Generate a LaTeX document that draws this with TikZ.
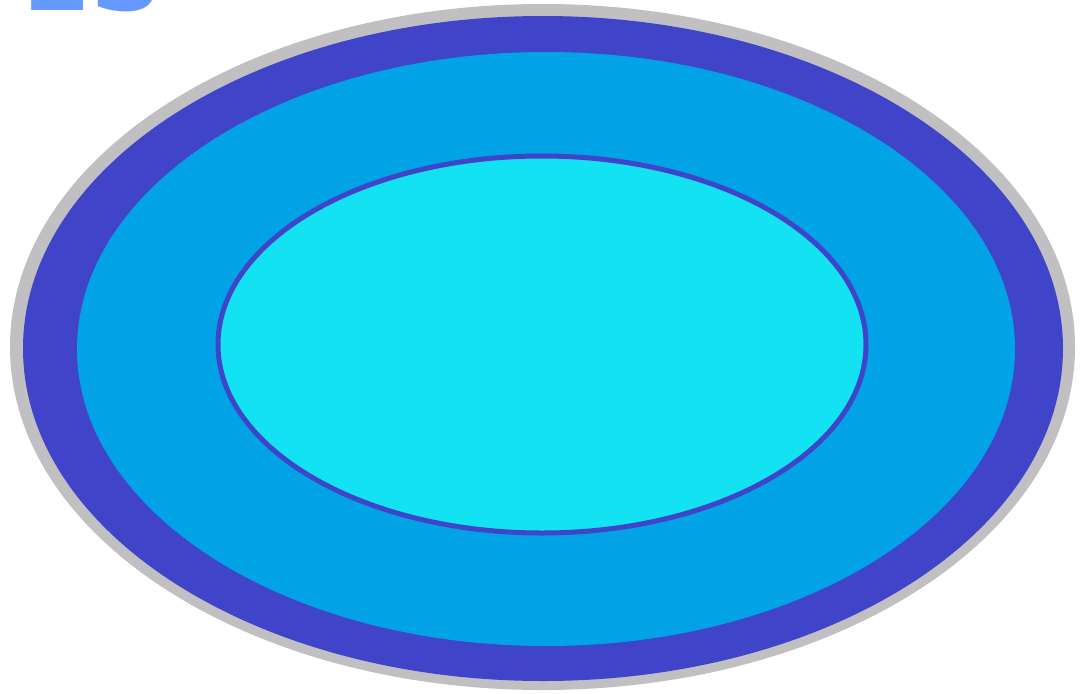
\documentclass[tikz,border=0pt]{standalone}
\usepackage{fontspec}
\setmainfont{DejaVu Sans}
\definecolor{ringgray}{HTML}{C0C0C2}
\definecolor{darkring}{HTML}{4044C8}
\definecolor{midring}{HTML}{02A2E6}
\definecolor{innercyan}{HTML}{12E2F2}
\definecolor{titleblue}{HTML}{6699FF}
\begin{document}
\begin{tikzpicture}[x=1pt,y=-1pt,
  ringfill/.style={fill=#1},
  titletext/.style={text=titleblue,font=\bfseries\fontsize{100}{100}\selectfont,inner sep=0pt,anchor=base west}]
\useasboundingbox (0,0) rectangle (1088,694);
\clip (0,0) rectangle (1088,694);
\fill[white] (0,0) rectangle (1088,694);
\fill[ringfill=ringgray] (542.5,347) ellipse [x radius=532.5,y radius=343];
\fill[ringfill=darkring] (543,348.5) ellipse [x radius=520,y radius=332.5];
\fill[ringfill=midring] (546,349) ellipse [x radius=469,y radius=297];
\filldraw[fill=innercyan,draw=darkring,line width=5pt] (542,344.5) ellipse [x radius=324,y radius=188.5];
\node[titletext] (title) at (22,10) {ES};
\end{tikzpicture}
\end{document}
